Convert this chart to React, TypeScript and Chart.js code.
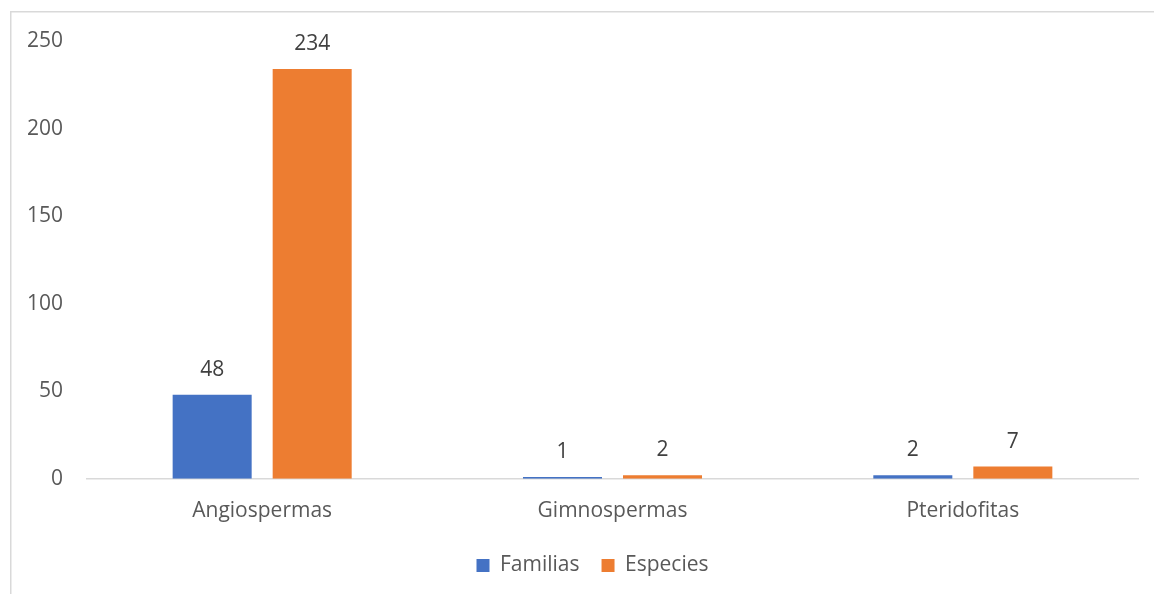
import React, { useEffect, useRef } from "react";
import { Chart, registerables } from "chart.js";

Chart.register(...registerables);

const categories = ["Angiospermas", "Gimnospermas", "Pteridofitas"];
const familias = [48, 1, 2];
const especies = [234, 2, 7];
const seriesNames = ["Familias", "Especies"];
const yMax = 250;
const yStep = 50;

const FONT = "'Open Sans', 'Noto Sans', sans-serif";

const frameAndLabels = {
  id: "frameAndLabels",
  beforeDraw(chart: any) {
    const ctx = chart.ctx;
    ctx.save();
    ctx.strokeStyle = "#d9d9d9";
    ctx.lineWidth = 1.5;
    ctx.beginPath();
    ctx.moveTo(0.75, chart.height);
    ctx.lineTo(0.75, 0.75);
    ctx.lineTo(chart.width, 0.75);
    ctx.stroke();
    ctx.restore();
  },
  afterDatasetsDraw(chart: any) {
    const ctx = chart.ctx;
    ctx.save();
    ctx.font = `21px ${FONT}`;
    ctx.fillStyle = "#404040";
    ctx.textAlign = "center";
    ctx.textBaseline = "middle";
    chart.data.datasets.forEach((ds: any, i: number) => {
      const meta = chart.getDatasetMeta(i);
      meta.data.forEach((el: any, j: number) => {
        ctx.fillText(String(ds.data[j]), el.x, el.y - 25);
      });
    });
    ctx.restore();
  },
};

export default function App() {
  const ref = useRef<HTMLCanvasElement>(null);
  useEffect(() => {
    if (!ref.current) return;
    const chart = new Chart(ref.current, {
      type: "bar",
      data: {
        labels: categories,
        datasets: [
          {
            label: seriesNames[0],
            data: familias,
            backgroundColor: "#4472C4",
            categoryPercentage: 0.571,
            barPercentage: 0.79,
          },
          {
            label: seriesNames[1],
            data: especies,
            backgroundColor: "#ED7D31",
            categoryPercentage: 0.571,
            barPercentage: 0.79,
          },
        ],
      },
      options: {
        responsive: false,
        animation: false,
        layout: { padding: { top: 30, right: 0, bottom: 8, left: 0 } },
        plugins: {
          tooltip: { enabled: false },
          legend: {
            position: "bottom",
            labels: {
              font: { family: FONT, size: 21 },
              color: "#595959",
              boxWidth: 13,
              boxHeight: 13,
              padding: 22,
            },
          },
        },
        scales: {
          x: {
            grid: { display: false, drawTicks: false },
            border: { color: "#d9d9d9", width: 1.5 },
            ticks: {
              font: { family: FONT, size: 21 },
              color: "#595959",
              padding: 20,
            },
            afterFit(scale: any) {
              scale.height -= 11;
            },
          },
          y: {
            min: 0,
            max: yMax,
            grid: { display: false, drawTicks: true, tickLength: 24 },
            border: { display: false },
            ticks: {
              stepSize: yStep,
              font: { family: FONT, size: 21 },
              color: "#595959",
              padding: 0,
            },
            afterFit(scale: any) {
              scale.width = 77;
            },
          },
          yRight: {
            position: "right",
            min: 0,
            max: yMax,
            grid: { display: false, drawTicks: false },
            border: { display: false },
            ticks: { display: false, padding: 0 },
            afterFit(scale: any) {
              scale.width = 37;
            },
          },
        },
      },
      plugins: [frameAndLabels],
    });
    return () => chart.destroy();
  }, []);
  return (
    <div style={{ position: "fixed", left: 10, top: 11, width: 1165, height: 583 }}>
      <canvas ref={ref} width={1165} height={583} style={{ display: "block" }} />
    </div>
  );
}
